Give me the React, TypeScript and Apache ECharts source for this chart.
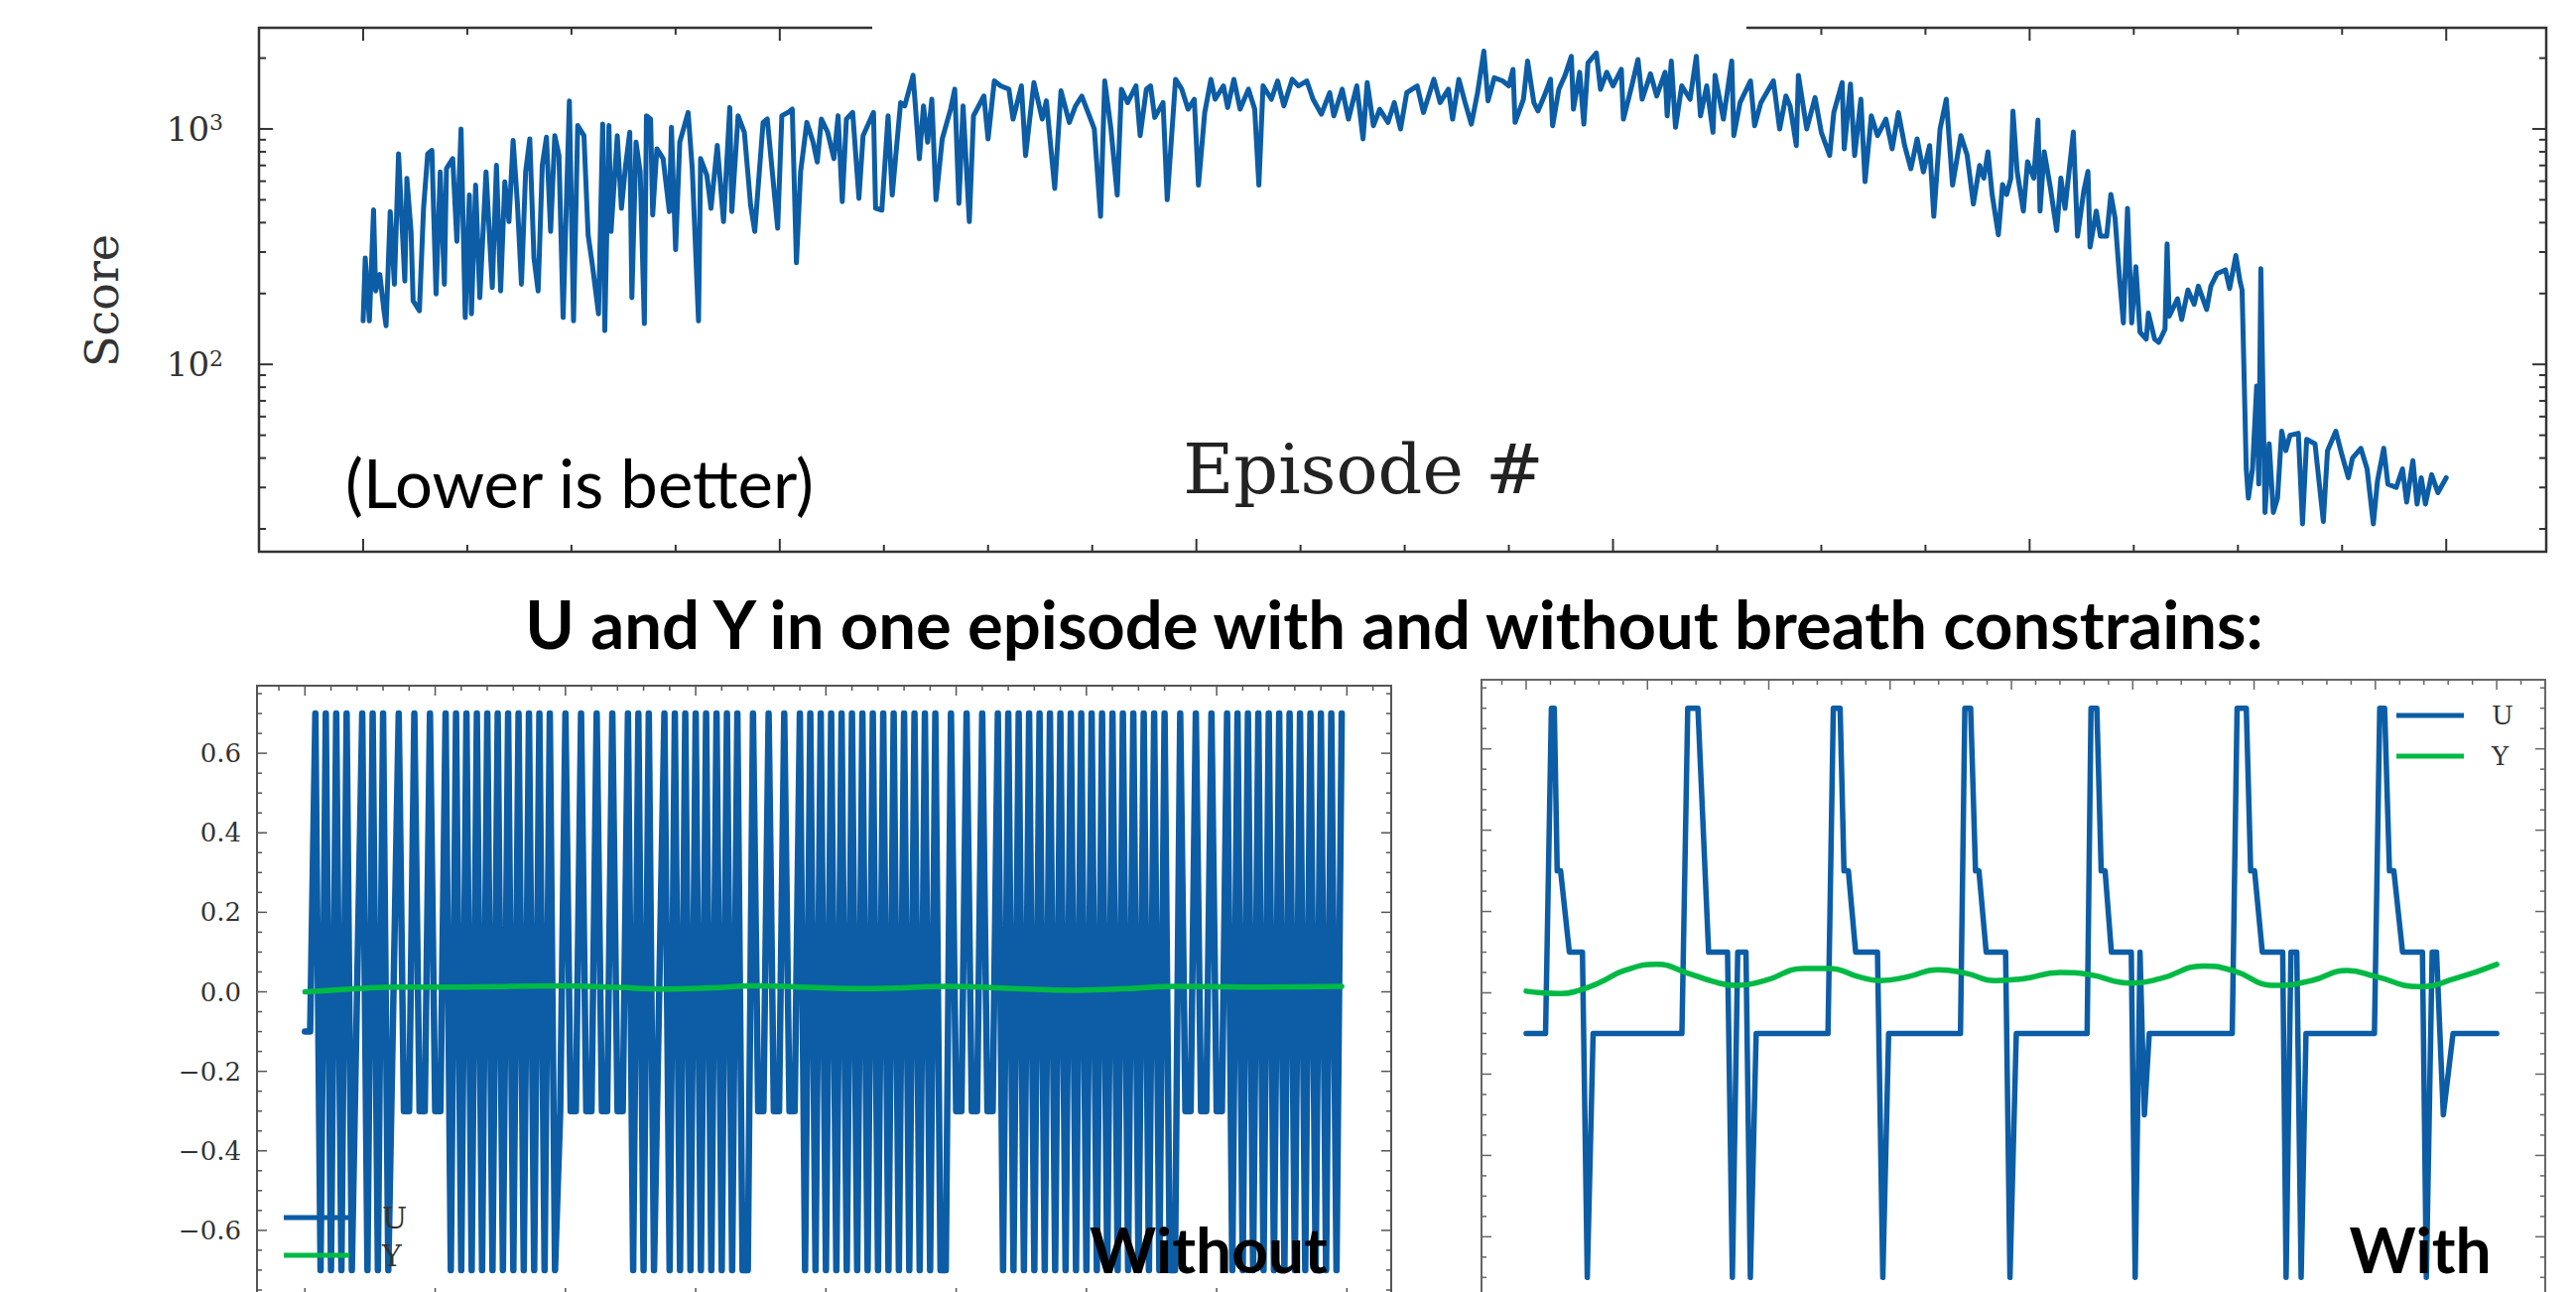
import React, { useEffect, useRef } from 'react';
import * as echarts from 'echarts';

const BLUE = '#0C5DA5';
const GREEN = '#00B945';

// ---------- Top chart: score per episode (log scale) ----------
const episodes = [
  0,1,3,5,6,8,10,11,13,15,17,20,21,23,24,27,29,31,33,35,
  37,39,40,43,45,47,49,51,52,54,56,59,62,64,66,68,70,72,74,76,
  78,80,82,84,86,88,90,92,94,96,99,101,103,106,108,110,113,115,116,118,
  119,122,124,126,128,129,131,133,135,136,138,139,141,144,147,148,150,152,156,158,
  161,162,165,167,170,173,176,177,180,183,186,188,192,194,199,201,204,206,208,210,
  213,216,218,220,223,226,228,230,232,235,238,240,245,246,
  249,252,254,258,260,264,267,269,271,273,275,278,282,284,286,288,291,293,298,300,
  303,306,310,312,316,318,322,326,328,332,335,339,342,345,348,351,354,356,359,362,
  364,367,371,373,376,378,380,384,386,390,393,396,399,401,404,407,409,413,415,418,
  421,425,428,430,432,436,439,442,446,449,453,456,460,464,466,470,473,477,480,482,
  485,488,492,495,498,501,
  506,509,511,514,517,521,523,526,529,532,535,538,540,543,547,550,552,553,557,559,
  562,564,567,570,571,574,577,580,581,584,586,588,592,594,597,600,604,605,609,612,
  614,618,621,625,626,628,630,633,637,640,642,645,648,649,653,657,658,661,666,668,
  671,677,680,683,685,688,689,693,697,700,704,706,710,711,714,716,719,721,724,727,
  731,734,737,740,743,746,749,752,754,757,760,763,767,
  770,773,776,778,780,782,785,787,789,791,792,794,797,799,802,804,805,807,810,813,
  815,817,821,823,826,828,829,832,834,837,839,841,843,845,847,849,851,853,856,857,
  860,862,865,866,867,871,873,876,879,881,885,887,890,894,896,899,901,902,904,905,
  907,909,910,911,913,915,917,919,921,923,925,929,931,933,937,941,943,947,950,953,
  955,959,962,965,967,970,972,976,979,981,984,986,988,990,993,996,1000,
];
const scores = [
  153,283,153,453,205,241,169,146,446,219,785,226,616,367,186,169,460,785,811,199,
  657,219,679,748,333,1000,158,524,164,577,192,657,212,701,205,596,404,893,491,219,
  657,908,283,205,701,922,367,937,772,158,1315,153,1033,937,355,266,164,1050,139,1033,
  367,937,460,701,968,192,879,657,149,1138,1102,431,824,748,446,1016,307,879,1175,679,
  153,748,636,460,851,404,1233,446,1138,968,475,367,1066,1102,379,1138,1175,1214,270,657,
  1066,879,724,1102,968,748,1138,491,1102,1175,507,937,1175,460,
  452,1137,524,1294,1253,1690,747,1253,878,1337,500,907,1213,1475,483,1253,404,1137,1380,907,
  1600,1524,1475,1101,1524,771,1574,1101,1316,559,1451,1066,1253,1380,1174,1000,425,1600,1000,524,
  1475,1294,1524,937,1475,1524,1119,1294,500,1625,1475,1213,1337,577,1174,1625,1337,1524,1233,1625,
  1213,1475,1213,577,1524,1337,1600,1253,1625,1524,1600,1337,1155,1427,1137,1475,1101,1524,907,1574,
  1032,1213,1066,1294,1000,1427,
  1524,1174,1337,1625,1294,1475,1101,1625,1294,1048,1427,2140,1316,1650,1600,1524,1790,1066,1337,1942,
  1294,1193,1380,1625,1032,1475,1690,2035,1213,1740,1048,1910,2104,1475,1740,1524,1790,1101,1524,1973,
  1337,1715,1380,1740,1137,1942,1016,1524,1337,2035,1137,1524,968,1690,1101,1942,937,1294,1600,1032,
  1294,1600,1000,1380,1253,850,1690,1000,1358,968,771,1174,1574,823,1550,771,1337,597,1137,937,
  1101,823,1174,850,678,907,657,850,425,1000,1337,577,937,
  775,480,700,618,800,527,355,580,527,618,1190,660,448,726,618,1090,448,800,560,370,
  618,460,970,350,545,660,315,448,350,350,527,420,243,150,460,150,260,137,128,165,
  128,124,141,325,160,190,155,207,180,215,171,215,243,252,210,290,225,207,36,27,
  36,81,31,255,23.5,46,23.5,27,52,43,50,51,21,48,46,21.5,43,52,41,33,
  40,44,36,21,32,44,31,30,36,26,39,25.5,33,25.5,34,28.5,33,
];
const scoreTicksXMajor = [0, 200, 400, 600, 800, 1000];
const scoreTicksXMinor = [50, 100, 150, 250, 300, 350, 450, 500, 550, 650, 700, 750, 850, 900, 950];
const scoreTicksYMajor = [100, 1000];
const scoreTicksYMinor = [20, 30, 40, 50, 60, 70, 80, 90, 200, 300, 400, 500, 600, 700, 800, 900, 2000];

// ---------- Bottom left: without breath constraints (one value per step) ----------
const uWithout = [
  -0.1,-0.1,
  0.7,-0.7,0.7,-0.7,0.7,-0.7,0.7,-0.7,
  0.0,
  0.7,-0.7,0.7,-0.7,0.7,-0.7,
  0.0,
  0.7,-0.3,-0.3,0.7,-0.3,-0.3,0.7,-0.3,-0.3,
  0.7,-0.7,0.7,-0.7,0.7,-0.7,0.7,-0.7,0.7,-0.7,0.7,-0.7,0.7,-0.7,0.7,-0.7,0.7,-0.7,0.7,-0.7,0.7,-0.7,
  -0.3,
  0.7,-0.3,-0.3,0.7,-0.3,-0.3,0.7,-0.3,-0.3,0.7,-0.3,-0.3,
  0.7,-0.7,0.7,-0.7,0.7,-0.7,
  0.0,
  0.7,-0.7,0.7,-0.7,0.7,-0.7,0.7,-0.7,0.7,-0.7,0.7,-0.7,0.7,-0.7,0.7,-0.7,
  -0.7,
  0.7,-0.3,-0.3,0.7,-0.3,-0.3,0.7,-0.3,-0.3,
  0.7,-0.7,0.7,-0.7,0.7,-0.7,0.7,-0.7,0.7,-0.7,0.7,-0.7,0.7,-0.7,0.7,-0.7,0.7,-0.7,0.7,-0.7,0.7,-0.7,0.7,-0.7,0.7,-0.7,
  0.7,
  -0.7,-0.7,
  0.7,-0.3,-0.3,0.7,-0.3,-0.3,0.7,-0.3,-0.3,
  0.7,-0.7,0.7,-0.7,0.7,-0.7,0.7,-0.7,0.7,-0.7,0.7,-0.7,0.7,-0.7,0.7,-0.7,
  0.7,-0.7,0.7,-0.7,0.7,-0.7,0.7,-0.7,0.7,-0.7,0.7,-0.7,0.7,-0.7,0.7,-0.7,
  0.7,
  -0.7,-0.7,
  0.7,-0.3,-0.3,0.7,-0.3,-0.3,0.7,-0.3,-0.3,
  0.7,-0.7,0.7,-0.7,0.7,-0.7,0.7,-0.7,0.7,-0.7,0.7,-0.7,0.7,-0.7,0.7,-0.7,0.7,-0.7,0.7,-0.7,0.7,-0.7,
  0.7,
];
const yWithoutT = [0,5,10,17,30,49,60,69,78,86,95,105,115,123,135,148,158,167,180,199];
const yWithoutV = [0,0.004,0.008,0.012,0.012,0.015,0.011,0.007,0.01,0.015,0.012,0.008,0.01,0.014,0.009,0.004,0.008,0.014,0.012,0.014];

// ---------- Bottom right: with breath constraints ----------
const uWithT = [
  0,4,5.2,5.8,6.4,7.1,8.9,11.6,12.6,13.8,
  32.1,33.3,35.4,37.6,41.5,42.5,43.6,45.3,46.2,47.4,
  62.2,63.3,64.7,65.5,66.4,67.9,72.4,73.5,74.7,
  89.5,90.4,91.6,92.6,93.3,94.8,98.8,99.7,101,
  115.6,116.4,117.6,118.5,119.3,120.6,124.7,125.5,126.5,127.4,128.4,
  145.5,146.5,148.4,149.3,150.1,151.7,155.9,156.6,157.6,158.8,159.7,160.7,
  174.8,175.9,176.9,177.9,178.8,180.6,184.7,185.5,186.7,187.6,189,191,200,
];
const uWithV = [
  -0.1,-0.1,0.7,0.7,0.3,0.3,0.1,0.1,-0.7,-0.1,
  -0.1,0.7,0.7,0.1,0.1,-0.7,0.1,0.1,-0.7,-0.1,
  -0.1,0.7,0.7,0.3,0.3,0.1,0.1,-0.7,-0.1,
  -0.1,0.7,0.7,0.3,0.3,0.1,0.1,-0.7,-0.1,
  -0.1,0.7,0.7,0.3,0.3,0.1,0.1,-0.7,0.1,-0.3,-0.1,
  -0.1,0.7,0.7,0.3,0.3,0.1,0.1,-0.7,0.1,0.1,-0.7,-0.1,
  -0.1,0.7,0.7,0.3,0.3,0.1,0.1,-0.7,0.1,0.1,-0.3,-0.1,-0.1,
];
const yWithT = [0,3.3,7,10.7,15.1,20.3,27,32.9,38.8,43.3,49.2,57.3,62.5,68.4,72.9,78.8,84.7,90.7,96.6,102.5,110,115.9,124.7,130.7,139.6,145.5,154.4,161.8,169.2,175.1,184,191.4,200];
const yWithV = [0.004,0,-0.002,0.005,0.025,0.055,0.07,0.05,0.027,0.018,0.03,0.06,0.06,0.04,0.03,0.04,0.057,0.048,0.03,0.035,0.05,0.045,0.024,0.035,0.066,0.055,0.018,0.03,0.055,0.04,0.015,0.035,0.07];

const stepTicksMajor = [0, 25, 50, 75, 100, 125, 150, 175, 200];
const stepTicksMinor = [-5,5,10,15,20,30,35,40,45,55,60,65,70,80,85,90,95,105,110,115,120,130,135,140,145,155,160,165,170,180,185,190,195,205];
const uyTicksMajor = [-0.6, -0.4, -0.2, 0, 0.2, 0.4, 0.6];
const uyTicksMinor = [-0.75,-0.7,-0.65,-0.55,-0.5,-0.45,-0.35,-0.3,-0.25,-0.15,-0.1,-0.05,0.05,0.1,0.15,0.25,0.3,0.35,0.45,0.5,0.55,0.65,0.7,0.75];

type Tick = { v: number[]; axis: 'x' | 'y'; len: number };

function tickSeries(
  idx: number,
  xMajor: number[], xMinor: number[], yMajor: number[], yMinor: number[],
  xRef: number, yRef: number,
  lens: number[], color: string, width: number,
) {
  const ticks: Tick[] = [];
  xMajor.forEach((v) => ticks.push({ v: [v, yRef], axis: 'x', len: lens[0] }));
  xMinor.forEach((v) => ticks.push({ v: [v, yRef], axis: 'x', len: lens[1] }));
  yMajor.forEach((v) => ticks.push({ v: [xRef, v], axis: 'y', len: lens[2] }));
  yMinor.forEach((v) => ticks.push({ v: [xRef, v], axis: 'y', len: lens[3] }));
  return {
    type: 'custom',
    xAxisIndex: idx,
    yAxisIndex: idx,
    silent: true,
    clip: false,
    z: 6,
    data: ticks.map((t) => t.v),
    renderItem: (params: any, api: any) => {
      const t = ticks[params.dataIndex];
      const cs = params.coordSys;
      const p = api.coord(t.v);
      const style = { stroke: color, lineWidth: width };
      if (t.axis === 'x') {
        return {
          type: 'group',
          children: [
            { type: 'line', shape: { x1: p[0], y1: cs.y, x2: p[0], y2: cs.y + t.len }, style },
            { type: 'line', shape: { x1: p[0], y1: cs.y + cs.height, x2: p[0], y2: cs.y + cs.height - t.len }, style },
          ],
        };
      }
      return {
        type: 'group',
        children: [
          { type: 'line', shape: { x1: cs.x, y1: p[1], x2: cs.x + t.len, y2: p[1] }, style },
          { type: 'line', shape: { x1: cs.x + cs.width, y1: p[1], x2: cs.x + cs.width - t.len, y2: p[1] }, style },
        ],
      };
    },
  };
}

const SERIF = '"DejaVu Serif", serif';

export default function App() {
  const ref = useRef<HTMLDivElement>(null);

  useEffect(() => {
    if (!ref.current) return;
    const chart = echarts.init(ref.current, undefined, { renderer: 'svg' });

    const option: any = {
      animation: false,
      backgroundColor: '#ffffff',
      grid: [
        { left: 261, top: 28, width: 2305, height: 528, show: true, borderColor: '#333', borderWidth: 2.5, backgroundColor: 'transparent', containLabel: false, outerBoundsMode: 'none' },
        { left: 259, top: 691, width: 1143, height: 617, show: true, borderColor: '#555', borderWidth: 2, backgroundColor: 'transparent', containLabel: false, outerBoundsMode: 'none' },
        { left: 1493, top: 685, width: 1072, height: 631, show: true, borderColor: '#666', borderWidth: 2, backgroundColor: 'transparent', containLabel: false, outerBoundsMode: 'none' },
      ],
      xAxis: [
        { gridIndex: 0, type: 'value', min: -50, max: 1048, show: false },
        { gridIndex: 1, type: 'value', min: -9.2, max: 208.5, show: false },
        { gridIndex: 2, type: 'value', min: -9.2, max: 210, show: false },
      ],
      yAxis: [
        {
          gridIndex: 0, type: 'log', logBase: 10, min: 16, max: 2690,
          axisLine: { show: false }, axisTick: { show: false }, splitLine: { show: false },
          minorTick: { show: false }, minorSplitLine: { show: false },
          axisLabel: {
            showMinLabel: false, showMaxLabel: false, margin: 36,
            formatter: (v: number) => {
              const l = Math.log10(v);
              const e = Math.round(l);
              if (Math.abs(l - e) > 0.01) return '';
              return '{b|10}{s|' + e + '}';
            },
            rich: {
              b: { fontFamily: SERIF, fontSize: 34, color: '#333' },
              s: { fontFamily: SERIF, fontSize: 22, color: '#333', verticalAlign: 'top' },
            },
          },
        },
        {
          gridIndex: 1, type: 'value', min: -0.77, max: 0.77, splitNumber: 8,
          axisLine: { show: false }, axisTick: { show: false }, splitLine: { show: false },
          axisLabel: {
            showMinLabel: false, showMaxLabel: false, margin: 16,
            fontFamily: SERIF, fontSize: 26, color: '#333',
            formatter: (v: number) => {
              if (Math.abs(v) > 0.7) return '';
              const s = (Math.abs(v) < 1e-9 ? 0 : v).toFixed(1);
              return s.replace('-', '\u2212');
            },
          },
        },
        { gridIndex: 2, type: 'value', min: -0.77, max: 0.77, show: false },
      ],
      legend: [
        {
          left: 286, top: 1212, orient: 'vertical', icon: 'rect', itemWidth: 66, itemHeight: 5,
          itemGap: 8, padding: 0, data: ['U', 'Y'],
          textStyle: { fontFamily: SERIF, fontSize: 30, color: '#333', lineHeight: 30, padding: [0, 0, 0, 28] },
        },
        {
          left: 2415, top: 706, orient: 'vertical', icon: 'rect', itemWidth: 68, itemHeight: 5,
          itemGap: 11, padding: 0, data: ['U', 'Y'],
          textStyle: { fontFamily: SERIF, fontSize: 26, color: '#333', lineHeight: 30, padding: [0, 0, 0, 23] },
        },
      ],
      series: [
        {
          name: 'Score', type: 'line', xAxisIndex: 0, yAxisIndex: 0, symbol: 'none', color: BLUE,
          lineStyle: { width: 5, color: BLUE, join: 'round', cap: 'round' },
          data: episodes.map((e, i) => [e, scores[i]]), z: 3,
        },
        tickSeries(0, scoreTicksXMajor, scoreTicksXMinor, scoreTicksYMajor, scoreTicksYMinor, 0, 100, [13, 7, 14, 7], '#333', 2),
        {
          name: 'U', type: 'line', xAxisIndex: 1, yAxisIndex: 1, symbol: 'none', color: BLUE,
          lineStyle: { width: 6.5, color: BLUE, join: 'round', cap: 'round' },
          data: uWithout.map((v, i) => [i, v]), z: 3,
        },
        {
          name: 'Y', type: 'line', xAxisIndex: 1, yAxisIndex: 1, symbol: 'none', color: GREEN, smooth: 0.5,
          lineStyle: { width: 5.5, color: GREEN, cap: 'round' },
          data: yWithoutT.map((t, i) => [t, yWithoutV[i]]), z: 4,
        },
        tickSeries(1, stepTicksMajor, stepTicksMinor, uyTicksMajor, uyTicksMinor, 0, 0, [10, 5, 10, 5], '#555', 1.5),
        {
          name: 'U', type: 'line', xAxisIndex: 2, yAxisIndex: 2, symbol: 'none', color: BLUE,
          lineStyle: { width: 5.5, color: BLUE, join: 'round', cap: 'round' },
          data: uWithT.map((t, i) => [t, uWithV[i]]), z: 3,
        },
        {
          name: 'Y', type: 'line', xAxisIndex: 2, yAxisIndex: 2, symbol: 'none', color: GREEN, smooth: 0.5,
          lineStyle: { width: 5.5, color: GREEN, cap: 'round' },
          data: yWithT.map((t, i) => [t, yWithV[i]]), z: 4,
        },
        tickSeries(2, stepTicksMajor, stepTicksMinor, uyTicksMajor, uyTicksMinor, 0, 0, [10, 5, 10, 5], '#666', 1.5),
      ],
      graphic: [
        { type: 'rect', z: 100, shape: { x: 879, y: 0, width: 881, height: 44 }, style: { fill: '#ffffff' } },
        {
          type: 'text', z: 100, x: 103, y: 303, rotation: Math.PI / 2,
          style: { text: 'Score', font: '46px "DejaVu Serif"', fill: '#333', textAlign: 'center', textVerticalAlign: 'middle' },
        },
        {
          type: 'text', z: 100, x: 1374, y: 473,
          style: { text: 'Episode #', font: '70px "DejaVu Serif"', fill: '#222', textAlign: 'center', textVerticalAlign: 'middle' },
        },
        {
          type: 'text', z: 100, x: 584, y: 486,
          style: { text: '(Lower is better)', font: '67px Lato', fill: '#000', textAlign: 'center', textVerticalAlign: 'middle' },
        },
        {
          type: 'text', z: 100, x: 1405, y: 628,
          style: { text: 'U and Y in one episode with and without breath constrains:', font: 'bold 67px Lato', fill: '#000', textAlign: 'center', textVerticalAlign: 'middle' },
        },
        {
          type: 'text', z: 100, x: 1218, y: 1290,
          style: { text: 'Without', font: 'bold 64px Lato', fill: '#000', textAlign: 'center', textVerticalAlign: 'bottom' },
        },
        {
          type: 'text', z: 100, x: 2439, y: 1290,
          style: { text: 'With', font: 'bold 64px Lato', fill: '#000', textAlign: 'center', textVerticalAlign: 'bottom' },
        },
      ],
    };

    chart.setOption(option);
    return () => {
      chart.dispose();
    };
  }, []);

  return (
    <div
      ref={ref}
      style={{ position: 'absolute', left: 0, top: 0, width: 2596, height: 1302, background: '#ffffff' }}
    />
  );
}
